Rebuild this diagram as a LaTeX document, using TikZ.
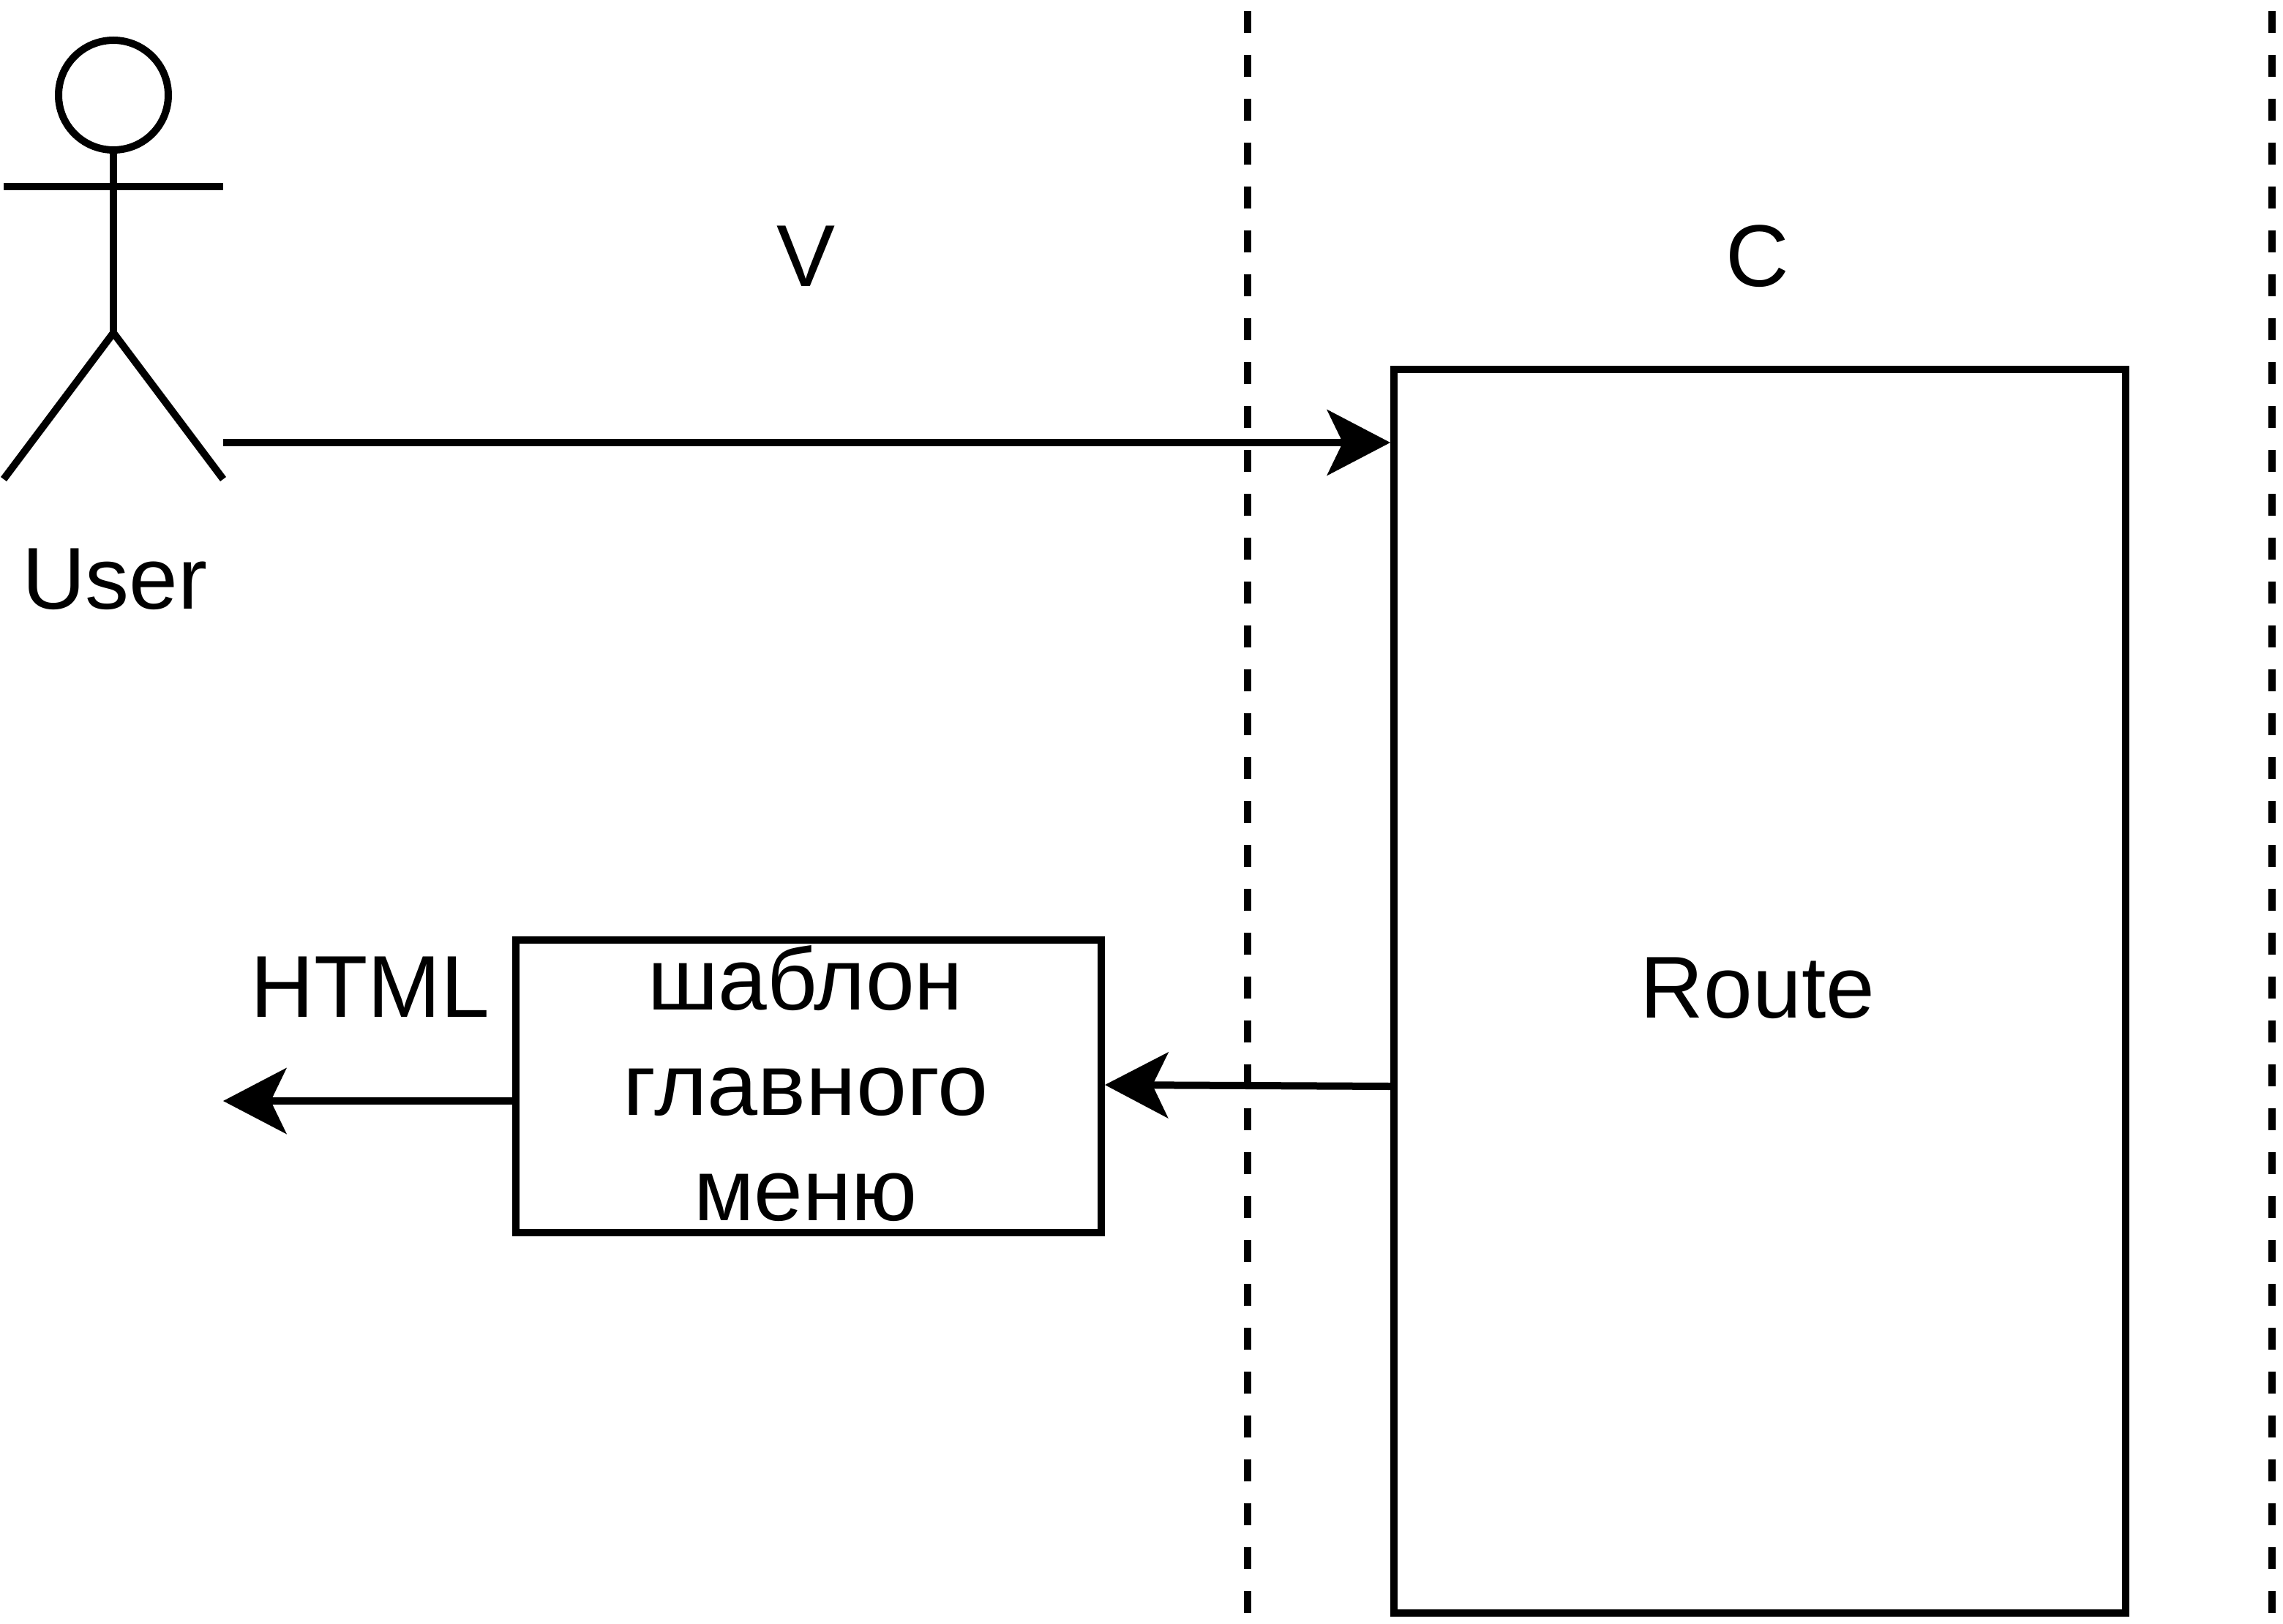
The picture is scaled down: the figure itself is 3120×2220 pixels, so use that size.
\documentclass[tikz,border=0pt]{standalone}
\usepackage{graphicx}
\usepackage{fontspec}
\setmainfont{Liberation Sans}
\usetikzlibrary{arrows.meta}
\tikzset{
  x=0.5pt,y=-0.5pt,
  line/.style={draw=black,line width=5pt},
  boxnode/.style={draw=black,line width=5pt,inner sep=0pt,outer sep=2.5pt,anchor=north west},
  txt/.style={font=\fontsize{60}{72}\selectfont,inner sep=0pt,outer sep=0pt,align=center,anchor=base},
  conn/.style={line,-{Stealth[length=43.5pt,width=45.5pt,inset=11pt,line width=0pt]}},
  sep/.style={line,dash pattern=on 15pt off 15pt},
}
\begin{document}
\begin{tikzpicture}
\useasboundingbox (0,0) rectangle (3120,2220);
\fill[white] (0,0) rectangle (3120,2220);
% separators
\coordinate (s1t) at (1705,15); \coordinate (s1b) at (1705,2205);
\coordinate (s2t) at (3105,15); \coordinate (s2b) at (3105,2205);
\draw[sep] (s1t) -- (s1b);
\draw[sep] (s2t) -- (s2b);
% actor
\node[circle,draw=black,line width=5pt,minimum size=75pt,inner sep=0pt,outer sep=0pt] (head) at (155,130) {};
\coordinate (hip) at (155,455);
\coordinate (armL) at (5,255); \coordinate (armR) at (305,255);
\coordinate (footL) at (5,655); \coordinate (footR) at (305,655);
\draw[line] (head.south) -- (hip);
\draw[line] (armL) -- (armR);
\draw[line] (footL) -- (hip) -- (footR);
\node[txt] (user) at (157,832) {User};
\node[txt] (v) at (1102,392) {V};
\node[txt] (c) at (2402,392) {C};
% boxes
\node[boxnode,minimum width=500pt,minimum height=850pt] (route) at (1900,500) {};
\node[txt] (routet) at (2402,1391) {Route};
\node[boxnode,minimum width=400pt,minimum height=200pt] (tpl) at (700,1280) {};
\node[txt] (t1) at (1101,1380) {шаблон};
\node[txt] (t2) at (1101,1524) {\scalebox{1.035}[1]{главного}};
\node[txt] (t3) at (1101,1668) {меню};
\node[txt] (html) at (506,1390) {HTML};
% connectors
\coordinate (uout) at (305,605);
\coordinate (hout) at (305,1505);
\draw[conn] (uout) -- (uout -| route.west);
\draw[conn] (tpl.east -| route.west) -- ([yshift=1pt]tpl.east);
\draw[conn] (hout -| tpl.west) -- (hout);
\end{tikzpicture}
\end{document}
